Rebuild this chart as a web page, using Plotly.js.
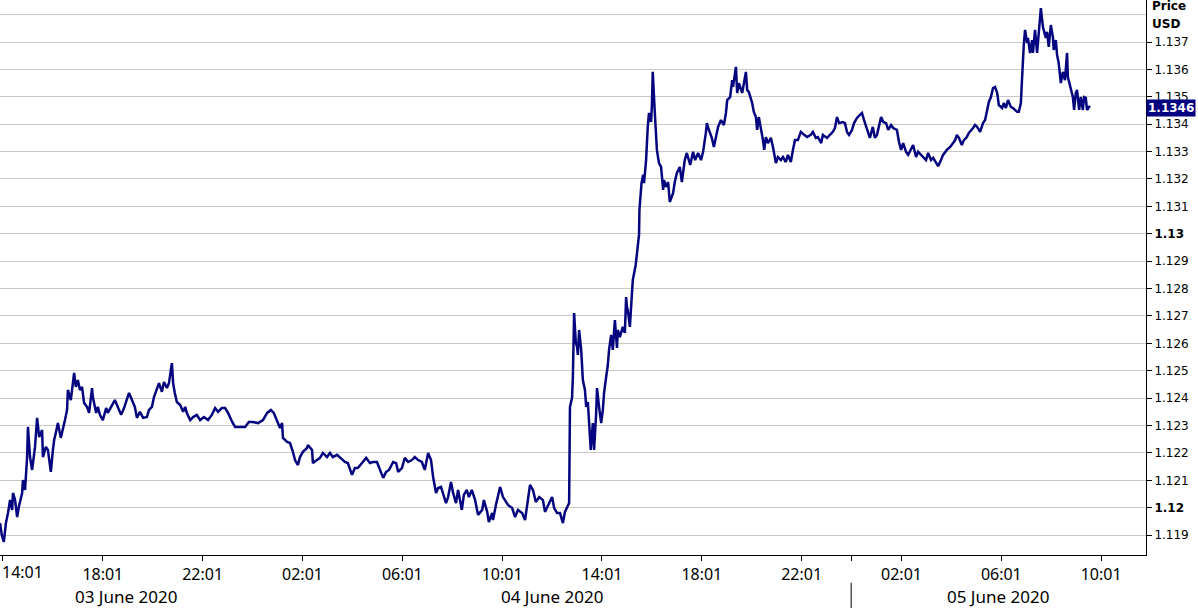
<!DOCTYPE html>
<html>
<head>
<meta charset="utf-8">
<script src="https://cdn.plot.ly/plotly-3.0.1.min.js"></script>
<style>html,body{margin:0;padding:0;background:#fff;}#chart{width:1198px;height:608px;}</style>
</head>
<body>
<div id="chart"></div>
<script>
// minutes after 2020-06-03 14:01
var minutes = [-7,-3,2,7,12,17,22,24,29,34,38,46,48,53,58,60,65,70,77,82,87,94,96,103,108,115,120,123,127,132,139,144,149,154,156,163,168,171,175,180,185,190,195,202,207,214,216,224,228,233,240,248,252,262,269,276,284,291,298,303,310,317,322,329,337,346,351,358,363,370,375,382,387,394,399,406,409,413,418,426,433,438,442,450,457,466,474,483,493,502,510,517,526,534,541,551,558,570,582,591,601,613,625,635,644,651,659,666,671,673,683,690,697,702,709,714,721,731,733,743,745,755,762,769,779,786,793,803,810,822,829,839,846,853,863,873,882,889,899,906,914,921,928,938,945,950,959,966,974,983,990,998,1007,1014,1022,1029,1034,1041,1046,1053,1058,1065,1070,1077,1082,1089,1094,1103,1108,1115,1120,1127,1135,1142,1152,1156,1164,1168,1176,1178,1185,1190,1195,1202,1207,1214,1224,1231,1238,1248,1255,1260,1267,1274,1281,1289,1298,1303,1310,1320,1325,1332,1339,1346,1351,1356,1361,1363,1368,1370,1373,1377,1380,1382,1385,1390,1392,1394,1399,1402,1406,1411,1413,1418,1421,1426,1428,1433,1438,1442,1445,1450,1454,1457,1462,1466,1471,1476,1478,1483,1490,1495,1498,1500,1502,1507,1512,1514,1521,1529,1530,1535,1539,1541,1546,1548,1550,1553,1558,1560,1562,1567,1570,1572,1577,1582,1587,1589,1594,1599,1603,1611,1615,1620,1627,1632,1639,1644,1652,1659,1664,1671,1678,1683,1690,1692,1697,1704,1709,1714,1719,1726,1733,1738,1741,1748,1753,1755,1760,1762,1765,1769,1777,1781,1786,1789,1793,1801,1805,1810,1813,1817,1822,1827,1830,1834,1839,1846,1851,1858,1863,1870,1875,1882,1887,1894,1899,1904,1911,1918,1926,1933,1942,1947,1954,1959,1967,1971,1981,1988,1995,2000,2005,2010,2019,2024,2029,2034,2041,2046,2053,2060,2065,2070,2075,2079,2084,2091,2096,2101,2106,2111,2116,2123,2128,2135,2140,2149,2154,2159,2164,2171,2176,2183,2188,2195,2200,2207,2212,2219,2224,2231,2236,2243,2248,2255,2260,2269,2277,2284,2289,2293,2298,2305,2310,2317,2322,2332,2337,2342,2349,2356,2361,2366,2370,2375,2380,2385,2390,2394,2402,2406,2411,2416,2423,2428,2438,2442,2447,2450,2452,2454,2457,2462,2464,2469,2474,2476,2481,2486,2488,2493,2495,2500,2502,2507,2510,2514,2519,2524,2526,2531,2534,2538,2543,2548,2553,2558,2560,2565,2572,2575,2579,2582,2587,2591,2596,2599,2603,2606,2611,2613];

var prices = [1.11944,1.11901,1.11875,1.11944,1.11981,1.12028,1.11992,1.12054,1.12028,1.11966,
1.12003,1.12054,1.12101,1.12065,1.12185,1.12295,1.12185,1.12138,1.12222,1.12328,
1.12258,1.12284,1.12185,1.12222,1.12211,1.12131,1.12211,1.12247,1.12273,1.12309,
1.12255,1.12284,1.12320,1.12357,1.12430,1.12393,1.12455,1.12492,1.12441,1.12466,
1.12430,1.12441,1.12382,1.12368,1.12346,1.12437,1.12404,1.12346,1.12368,1.12339,
1.12320,1.12364,1.12346,1.12375,1.12393,1.12368,1.12339,1.12364,1.12393,1.12419,
1.12393,1.12368,1.12328,1.12350,1.12328,1.12331,1.12357,1.12368,1.12404,1.12430,
1.12455,1.12423,1.12459,1.12437,1.12455,1.12528,1.12455,1.12419,1.12386,1.12375,
1.12350,1.12368,1.12346,1.12320,1.12331,1.12339,1.12320,1.12331,1.12320,1.12339,
1.12364,1.12350,1.12364,1.12364,1.12346,1.12313,1.12295,1.12295,1.12295,1.12313,
1.12313,1.12309,1.12320,1.12346,1.12357,1.12346,1.12320,1.12291,1.12309,1.12255,
1.12240,1.12236,1.12204,1.12174,1.12156,1.12185,1.12204,1.12218,1.12229,1.12211,
1.12163,1.12174,1.12182,1.12200,1.12185,1.12200,1.12185,1.12193,1.12182,1.12167,
1.12163,1.12120,1.12145,1.12145,1.12163,1.12182,1.12163,1.12167,1.12167,1.12138,
1.12109,1.12131,1.12138,1.12167,1.12163,1.12131,1.12145,1.12182,1.12167,1.12174,
1.12185,1.12174,1.12167,1.12138,1.12200,1.12174,1.12112,1.12054,1.12072,1.12076,
1.12054,1.12017,1.12039,1.12094,1.12054,1.12017,1.12065,1.11992,1.12047,1.12065,
1.12039,1.12065,1.12028,1.11974,1.11992,1.12028,1.11985,1.11948,1.11981,1.11955,
1.12010,1.12047,1.12076,1.12039,1.12028,1.12010,1.11999,1.11966,1.11992,1.11981,
1.11955,1.12003,1.12083,1.12065,1.12021,1.12039,1.12028,1.11985,1.12010,1.12039,
1.11999,1.11981,1.11981,1.11944,1.11985,1.11999,1.12017,1.12368,1.12401,1.12477,
1.12711,1.12605,1.12587,1.12558,1.12649,1.12576,1.12503,1.12466,1.12430,1.12368,
1.12386,1.12273,1.12211,1.12309,1.12211,1.12346,1.12437,1.12368,1.12309,1.12357,
1.12419,1.12477,1.12521,1.12576,1.12631,1.12576,1.12685,1.12583,1.12649,1.12623,
1.12660,1.12638,1.12769,1.12733,1.12722,1.12660,1.12758,1.12831,1.12886,1.12996,
1.13087,1.13185,1.13215,1.13185,1.13269,1.13350,1.13390,1.13441,1.13408,1.13470,
1.13591,1.13441,1.13342,1.13306,1.13258,1.13244,1.13160,1.13196,1.13171,1.13189,
1.13116,1.13149,1.13189,1.13222,1.13244,1.13189,1.13269,1.13295,1.13251,1.13299,
1.13269,1.13295,1.13269,1.13299,1.13372,1.13404,1.13379,1.13350,1.13317,1.13353,
1.13390,1.13415,1.13397,1.13441,1.13488,1.13499,1.13561,1.13536,1.13587,1.13609,
1.13514,1.13550,1.13514,1.13550,1.13591,1.13525,1.13518,1.13477,1.13445,1.13426,
1.13379,1.13426,1.13386,1.13342,1.13306,1.13353,1.13331,1.13350,1.13317,1.13258,
1.13280,1.13269,1.13280,1.13262,1.13288,1.13262,1.13306,1.13342,1.13342,1.13372,
1.13361,1.13353,1.13361,1.13372,1.13350,1.13353,1.13331,1.13361,1.13350,1.13361,
1.13372,1.13386,1.13426,1.13404,1.13408,1.13404,1.13372,1.13361,1.13379,1.13404,
1.13423,1.13434,1.13441,1.13415,1.13390,1.13372,1.13350,1.13390,1.13350,1.13361,
1.13397,1.13426,1.13408,1.13404,1.13379,1.13397,1.13386,1.13379,1.13335,1.13306,
1.13331,1.13299,1.13288,1.13306,1.13324,1.13280,1.13299,1.13288,1.13280,1.13269,
1.13295,1.13269,1.13277,1.13262,1.13247,1.13269,1.13288,1.13306,1.13317,1.13331,
1.13342,1.13361,1.13350,1.13324,1.13342,1.13353,1.13368,1.13386,1.13397,1.13390,
1.13372,1.13404,1.13415,1.13452,1.13481,1.13499,1.13532,1.13536,1.13514,1.13470,
1.13459,1.13477,1.13459,1.13488,1.13463,1.13459,1.13445,1.13445,1.13477,1.13572,
1.13645,1.13689,1.13744,1.13696,1.13715,1.13660,1.13707,1.13660,1.13744,1.13660,
1.13696,1.13780,1.13824,1.13755,1.13744,1.13715,1.13737,1.13682,1.13762,1.13718,
1.13671,1.13707,1.13653,1.13623,1.13550,1.13591,1.13561,1.13660,1.13572,1.13543,
1.13499,1.13452,1.13514,1.13525,1.13452,1.13499,1.13452,1.13499,1.13496,1.13452,
1.13463,1.13460];

var tickLabels = ['14:01','18:01','22:01','02:01','06:01','10:01','14:01','18:01','22:01','02:01','06:01','10:01'];
var yTickValues = [1.119,1.12,1.121,1.122,1.123,1.124,1.125,1.126,1.127,1.128,1.129,1.13,1.131,1.132,1.133,1.134,1.135,1.136,1.137];
var yTickLabels = ['1.119','<b>1.12</b>','1.121','1.122','1.123','1.124','1.125','1.126','1.127','1.128','1.129','<b>1.13</b>','1.131','1.132','1.133','1.134','1.135','1.136','1.137'];
var dayLabels = ['03 June 2020','04 June 2020','05 June 2020'];
var dayLabelTimes = ['2020-06-03 18:57','2020-06-04 12:00','2020-06-05 05:54'];
var lastPrice = 1.1346;

var base = Date.UTC(2020,5,3,14,1,0);
function p2(n){return (n<10?'0':'')+n;}
function fmt(ms){var d=new Date(ms);return d.getUTCFullYear()+'-'+p2(d.getUTCMonth()+1)+'-'+p2(d.getUTCDate())+' '+p2(d.getUTCHours())+':'+p2(d.getUTCMinutes())+':'+p2(d.getUTCSeconds());}

var xs = minutes.map(function(m){return fmt(base + m*60000);});
var tickVals = tickLabels.map(function(_,i){return fmt(base + i*240*60000);});
var tickText = tickLabels.slice();
tickText[0] = '';
var midnight = '2020-06-05 00:00:00';
tickVals.push(midnight); tickText.push('');

var font = 'Noto Sans, DejaVu Sans, sans-serif';

var trace = {
  x: xs, y: prices, type: 'scatter', mode: 'lines',
  line: {color: '#05057f', width: 2.5}, hoverinfo: 'skip'
};

var annotations = [
  {xref:'paper', yref:'paper', x:0, y:0, xanchor:'left', yanchor:'middle', yshift:-17, text:tickLabels[0], showarrow:false, font:{family:font, size:16, color:'#000'}},
  {xref:'paper', yref:'paper', x:1, y:1, xanchor:'left', yanchor:'middle', xshift:4, yshift:-6, text:'<b>Price</b>', showarrow:false, font:{family:'DejaVu Sans', size:12, color:'#000'}},
  {xref:'paper', yref:'paper', x:1, y:1, xanchor:'left', yanchor:'middle', xshift:4, yshift:-24, text:'<b>USD</b>', showarrow:false, font:{family:'DejaVu Sans', size:12, color:'#000'}},
  {xref:'paper', yref:'y', x:1, y:lastPrice, xanchor:'left', yanchor:'middle', xshift:0, text:'<b>'+lastPrice.toFixed(4)+'</b>', showarrow:false, bgcolor:'#000080', borderpad:1, font:{family:'DejaVu Sans', size:12, color:'#fff'}}
];
dayLabels.forEach(function(t,i){
  annotations.push({xref:'x', yref:'paper', x:dayLabelTimes[i], y:0, xanchor:'center', yanchor:'middle', yshift:-41, text:t, showarrow:false, font:{family:font, size:17, color:'#000'}});
});

var layout = {
  width:1198, height:608,
  margin:{l:0, r:52, t:0, b:53, pad:0},
  paper_bgcolor:'#fff', plot_bgcolor:'#fff',
  showlegend:false,
  xaxis:{
    type:'date', range:['2020-06-03 13:53:48','2020-06-05 11:48:48'],
    tickmode:'array', tickvals:tickVals, ticktext:tickText,
    ticks:'outside', ticklen:5, tickcolor:'#000', tickwidth:1,
    showgrid:false, zeroline:false, showline:true, linecolor:'#000', linewidth:1,
    tickfont:{family:font, size:16, color:'#000'}, fixedrange:true
  },
  yaxis:{
    side:'right', range:[1.118275,1.138533],
    tickmode:'array', tickvals:yTickValues, ticktext:yTickLabels,
    ticks:'outside', ticklen:5, tickcolor:'#000', tickwidth:1,
    showgrid:true, gridcolor:'#c8c8c8', gridwidth:1,
    zeroline:false, showline:true, linecolor:'#000', linewidth:1,
    tickfont:{family:'DejaVu Sans', size:12, color:'#000'}, fixedrange:true
  },
  shapes:[
    {type:'line', xref:'paper', yref:'y', x0:0, x1:1, y0:1.138, y1:1.138, line:{color:'#c8c8c8', width:1}, layer:'below'},
    {type:'line', xref:'x', yref:'paper', x0:midnight, x1:midnight, y0:-0.05, y1:-0.097, line:{color:'#000', width:1}}
  ],
  annotations:annotations
};

Plotly.newPlot('chart', [trace], layout, {displayModeBar:false, staticPlot:true});
</script>
</body>
</html>
